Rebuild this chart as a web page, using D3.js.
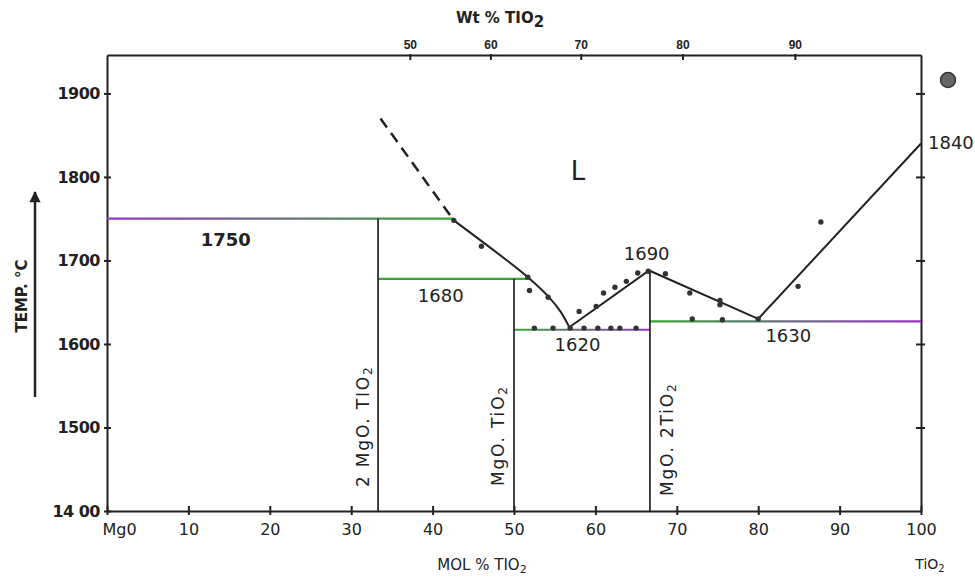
<!DOCTYPE html>
<html>
<head>
<meta charset="utf-8">
<script src="https://cdn.jsdelivr.net/npm/d3@7"></script>
<style>
  body { margin: 0; background: #fff; }
  svg { display: block; font-family: "DejaVu Sans", sans-serif; }
  .axis path, .axis line { stroke: #222; stroke-width: 2; }
  .axis text { fill: #222; }
</style>
</head>
<body>
<div id="chart"></div>
<script>
// MgO - TiO2 phase diagram

// mol % TiO2 tick labels (bottom)
var molTicks = [0, 10, 20, 30, 40, 50, 60, 70, 80, 90, 100];
var molLabels = ["Mg0", "10", "20", "30", "40", "50", "60", "70", "80", "90", "100"];
// temperature ticks (left and right)
var tempTicks = [1400, 1500, 1600, 1700, 1800, 1900];
var tempLabels = ["14 00", "1500", "1600", "1700", "1800", "1900"];
// wt % TiO2 ticks on top, placed at the mol % where the figure puts them
var wtLabels = ["50", "60", "70", "80", "90"];
var wtAtMol = [37.2, 47.1, 58.2, 70.7, 84.5];

// liquidus [mol %, °C]: dashed extrapolation, curved MgO-rich branch, then straight parts
var liquidusDashed = [[33.6, 1870], [42.6, 1748]];
var liquidusCurve = [[42.6, 1748], [51.7, 1680], [54.2, 1657], [55.7, 1639], [56.8, 1620]];
var liquidusStraight = [[56.8, 1620], [66.6, 1688], [80.0, 1630], [100, 1840]];

// isotherms [from mol, to mol, °C]
var isotherms = [[0, 42.6, 1750], [33.3, 51.7, 1678], [50, 66.7, 1617], [66.7, 100, 1627]];
// compounds [mol %, top °C, name]
var compounds = [[33.3, 1750, "2 MgO. TIO"], [50, 1678, "MgO. TiO"], [66.7, 1688, "MgO. 2TiO"]];

// measured points [mol %, °C]
var points = [
  [42.6, 1748], [46.0, 1717], [51.7, 1680], [51.9, 1664], [54.2, 1656], [56.9, 1619],
  [58.0, 1639], [60.1, 1645], [61.0, 1661], [62.4, 1668], [63.8, 1675], [65.2, 1685],
  [66.5, 1687], [68.6, 1684],
  [52.5, 1619], [54.8, 1619], [58.6, 1619], [60.3, 1619], [61.9, 1619], [63.0, 1619], [65.0, 1619],
  [71.6, 1661], [75.3, 1652], [75.3, 1647], [71.9, 1630], [75.6, 1629], [80.0, 1630],
  [84.9, 1669], [87.7, 1746]
];

// temperature notes [mol %, °C, text]
var tempNotes = [[14.6, 1717, "1750"], [41.0, 1650, "1680"], [57.8, 1592, "1620"],
                 [66.3, 1701, "1690"], [83.7, 1602, "1630"]];

var width = 975, height = 580;
var svg = d3.select("#chart").append("svg")
    .attr("width", width)
    .attr("height", height);

var x = d3.scaleLinear().domain([0, 100]).range([107, 921]);
var y = d3.scaleLinear().domain([1400, 1946]).range([511, 55]);

var purple = "#9a34c8", green = "#34a834", ink = "#222";

// gradients for the isotherms (scan colour fringes)
var defs = svg.append("defs");
function makeGradient(id, x1, x2, c1, c2) {
    var g = defs.append("linearGradient")
        .attr("id", id)
        .attr("gradientUnits", "userSpaceOnUse")
        .attr("x1", x1).attr("x2", x2).attr("y1", 0).attr("y2", 0);
    g.append("stop").attr("offset", "0%").attr("stop-color", c1);
    g.append("stop").attr("offset", "100%").attr("stop-color", c2);
}
var isoColours = [[purple, green], [green, green], [green, purple], [green, purple]];
isotherms.forEach(function(d, i) {
    makeGradient("iso" + i, x(d[0]), x(d[1]), isoColours[i][0], isoColours[i][1]);
});
makeGradient("topaxis", x(0), x(100), purple, green);

// axes
var leftAxis = svg.append("g").attr("class", "axis")
    .attr("transform", "translate(" + x(0) + ",0)")
    .call(d3.axisLeft(y).tickValues(tempTicks)
        .tickFormat(function(d, i) { return tempLabels[i]; })
        .tickSize(0).tickPadding(7));
leftAxis.selectAll(".tick line").attr("x1", -3).attr("x2", 4);
leftAxis.selectAll(".tick text").attr("font-size", 16).attr("font-weight", "bold")
    .attr("font-family", "DejaVu Sans").attr("letter-spacing", -0.5);

var rightAxis = svg.append("g").attr("class", "axis")
    .attr("transform", "translate(" + x(100) + ",0)")
    .call(d3.axisRight(y).tickValues(tempTicks.slice(1)).tickSize(0).tickFormat(""));
rightAxis.selectAll(".tick line").attr("x1", -5).attr("x2", 4);

var bottomAxis = svg.append("g").attr("class", "axis")
    .attr("transform", "translate(0," + y(1400) + ")")
    .call(d3.axisBottom(x).tickValues(molTicks)
        .tickFormat(function(d, i) { return molLabels[i]; })
        .tickSize(0).tickPadding(13));
bottomAxis.selectAll(".tick line").attr("y1", -5).attr("y2", 4);
bottomAxis.selectAll(".tick text").attr("font-size", 16).attr("font-family", "DejaVu Sans");
bottomAxis.selectAll(".tick").filter(function(d) { return d === 0; })
    .select("text").attr("dx", 12);

var topAxis = svg.append("g").attr("class", "axis")
    .attr("transform", "translate(0," + y(1946) + ")")
    .call(d3.axisTop(x).tickValues(wtAtMol)
        .tickFormat(function(d, i) { return wtLabels[i]; })
        .tickSize(0).tickPadding(6));
topAxis.select(".domain").attr("stroke", "url(#topaxis)");
topAxis.selectAll(".tick line").attr("y1", -1).attr("y2", 5).attr("stroke-width", 3);
topAxis.selectAll(".tick text").attr("font-size", 12).attr("font-weight", "bold");

// isotherms
svg.selectAll(".iso")
    .data(isotherms)
    .enter().append("line")
    .attr("class", "iso")
    .attr("x1", function(d) { return x(d[0]); })
    .attr("x2", function(d) { return x(d[1]); })
    .attr("y1", function(d) { return y(d[2]); })
    .attr("y2", function(d) { return y(d[2]); })
    .attr("stroke", function(d, i) { return "url(#iso" + i + ")"; })
    .attr("stroke-width", 2.2);

// compound verticals
svg.selectAll(".comp")
    .data(compounds)
    .enter().append("line")
    .attr("class", "comp")
    .attr("x1", function(d) { return x(d[0]); })
    .attr("x2", function(d) { return x(d[0]); })
    .attr("y1", y(1400))
    .attr("y2", function(d) { return y(d[1]); })
    .attr("stroke", ink)
    .attr("stroke-width", 1.7);

// rotated compound names sit just left of their line
var compLabelX = [369, 504, 673], compLabelY = [487, 486, 496];
var compLabels = svg.selectAll(".comp-label")
    .data(compounds)
    .enter().append("text")
    .attr("class", "comp-label")
    .attr("transform", function(d, i) {
        return "translate(" + compLabelX[i] + "," + compLabelY[i] + ") rotate(-90)";
    })
    .attr("font-size", 17)
    .attr("letter-spacing", 1.8)
    .attr("fill", ink)
    .text(function(d) { return d[2]; });
compLabels.append("tspan").attr("dy", 3).attr("font-size", 12).text("2");

// liquidus
var line = d3.line()
    .x(function(d) { return x(d[0]); })
    .y(function(d) { return y(d[1]); });

svg.append("path")
    .datum(liquidusDashed)
    .attr("d", line)
    .attr("fill", "none")
    .attr("stroke", ink)
    .attr("stroke-width", 2.5)
    .attr("stroke-dasharray", "11,7");

svg.append("path")
    .datum(liquidusCurve)
    .attr("d", d3.line()
        .x(function(d) { return x(d[0]); })
        .y(function(d) { return y(d[1]); })
        .curve(d3.curveCatmullRom.alpha(0.5)))
    .attr("fill", "none")
    .attr("stroke", ink)
    .attr("stroke-width", 2);

svg.append("path")
    .datum(liquidusStraight)
    .attr("d", line)
    .attr("fill", "none")
    .attr("stroke", ink)
    .attr("stroke-width", 2);

// measured points
svg.selectAll(".pt")
    .data(points)
    .enter().append("circle")
    .attr("class", "pt")
    .attr("cx", function(d) { return x(d[0]); })
    .attr("cy", function(d) { return y(d[1]); })
    .attr("r", 2.7)
    .attr("fill", "#333");

// temperature notes
svg.selectAll(".note")
    .data(tempNotes)
    .enter().append("text")
    .attr("class", "note")
    .attr("x", function(d) { return x(d[0]); })
    .attr("y", function(d) { return y(d[1]); })
    .attr("text-anchor", "middle")
    .attr("font-size", 18)
    .attr("font-weight", function(d) { return d[2] === "1750" ? "bold" : "normal"; })
    .attr("fill", ink)
    .text(function(d) { return d[2]; });

svg.append("text")
    .attr("x", x(100) + 7).attr("y", y(1840) + 5)
    .attr("font-size", 18).attr("fill", ink)
    .text("1840");

svg.append("text")
    .attr("x", 578).attr("y", 180)
    .attr("text-anchor", "middle")
    .attr("font-size", 26).attr("fill", ink)
    .text("L");

// corner figure mark
svg.append("circle")
    .attr("cx", 948).attr("cy", 80).attr("r", 7.5)
    .attr("fill", "#666").attr("stroke", "#333").attr("stroke-width", 1.5);

// axis titles
var wt = svg.append("text")
    .attr("x", 500).attr("y", 23)
    .attr("text-anchor", "middle")
    .attr("font-size", 15).attr("font-weight", "bold").attr("fill", ink)
    .text("Wt % TIO");
wt.append("tspan").attr("dy", 4).text("2");

var mol = svg.append("text")
    .attr("x", 482).attr("y", 570)
    .attr("text-anchor", "middle")
    .attr("font-size", 15).attr("fill", ink)
    .text("MOL % TIO");
mol.append("tspan").attr("dy", 3).attr("font-size", 11).text("2");

var ti = svg.append("text")
    .attr("x", 930).attr("y", 569)
    .attr("text-anchor", "middle")
    .attr("font-size", 14).attr("fill", ink)
    .text("TiO");
ti.append("tspan").attr("dy", 3).attr("font-size", 10).text("2");

svg.append("text")
    .attr("transform", "translate(27,296) rotate(-90)")
    .attr("text-anchor", "middle")
    .attr("font-size", 15).attr("font-weight", "bold").attr("fill", ink)
    .text("TEMP.  °C");

// arrow beside the temperature title
defs.append("marker")
    .attr("id", "arrow")
    .attr("viewBox", "0 0 10 10")
    .attr("refX", 9).attr("refY", 5)
    .attr("markerWidth", 6).attr("markerHeight", 4.5)
    .attr("orient", "auto")
    .append("path").attr("d", "M0,0L10,5L0,10Z").attr("fill", ink);
svg.append("line")
    .attr("x1", 35).attr("x2", 35).attr("y1", 397).attr("y2", 192)
    .attr("stroke", ink).attr("stroke-width", 2.5)
    .attr("marker-end", "url(#arrow)");
</script>
</body>
</html>
